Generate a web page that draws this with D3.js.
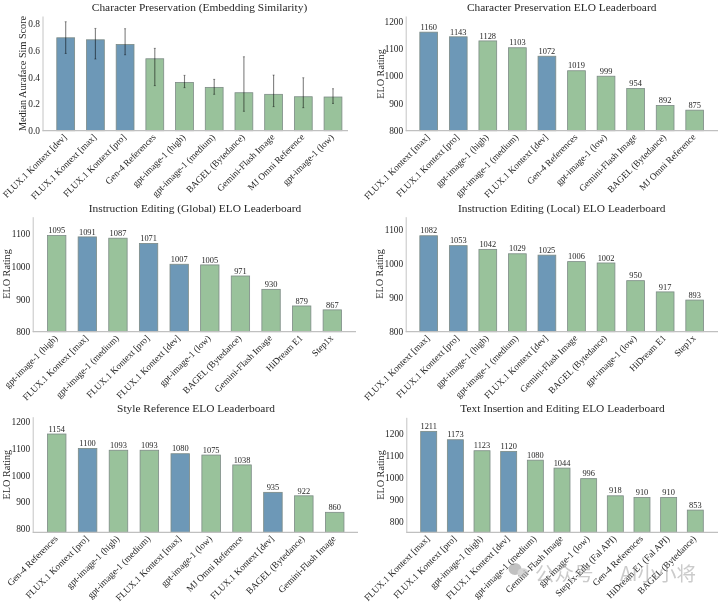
<!DOCTYPE html>
<html><head><meta charset="utf-8">
<script src="https://cdn.jsdelivr.net/npm/d3@7"></script>
<style>
html,body{margin:0;padding:0;background:#fff}
svg{display:block}
text{font-family:"Liberation Serif",serif;fill:#262626}
</style></head><body><svg id="c" width="720" height="602"></svg>
<script>
const KM="FLUX.1 Kontext [max]",KP="FLUX.1 Kontext [pro]",KD="FLUX.1 Kontext [dev]";
const GH="gpt-image-1 (high)",GM="gpt-image-1 (medium)",GL="gpt-image-1 (low)";
const G4="Gen-4 References",BA="BAGEL (Bytedance)",GF="Gemini-Flash Image",MJ="MJ Omni Reference",HD="HiDream E1",ST="Step1x";

const simNames=[KD,KM,KP,G4,GH,GM,BA,GF,MJ,GL];
const simValues=[0.695,0.68,0.645,0.538,0.361,0.324,0.284,0.272,0.254,0.252];
const simLow=[0.578,0.536,0.568,0.337,0.322,0.272,0.145,0.18,0.172,0.204];
const simHigh=[0.815,0.765,0.763,0.616,0.414,0.384,0.553,0.416,0.396,0.314];

const charNames=[KM,KP,GH,GM,KD,G4,GL,GF,BA,MJ];
const charValues=[1160,1143,1128,1103,1072,1019,999,954,892,875];
const globalNames=[GH,KM,GM,KP,KD,GL,BA,GF,HD,ST];
const globalValues=[1095,1091,1087,1071,1007,1005,971,930,879,867];
const localNames=[KM,KP,GH,GM,KD,GF,BA,GL,HD,ST];
const localValues=[1082,1053,1042,1029,1025,1006,1002,950,917,893];
const styleNames=[G4,KP,GH,GM,KM,GL,MJ,KD,BA,GF];
const styleValues=[1154,1100,1093,1093,1080,1075,1038,935,922,860];
const textNames=[KM,KP,GH,KD,GM,GF,GL,"Step1x-Edit (Fal API)",G4,"HiDream E1 (Fal API)",BA];
const textValues=[1211,1173,1123,1120,1080,1044,996,918,910,910,853];

const eloTicks1=[800,900,1000,1100,1200];
const eloTicks2=[800,900,1000,1100];
const simTicks=[0,0.2,0.4,0.6,0.8];

const titles=["Character Preservation (Embedding Similarity)","Character Preservation ELO Leaderboard","Instruction Editing (Global) ELO Leaderboard","Instruction Editing (Local) ELO Leaderboard","Style Reference ELO Leaderboard","Text Insertion and Editing ELO Leaderboard"];

const panels=[
 {t:titles[0],names:simNames,vals:simValues,lo:simLow,hi:simHigh,dom:[0,0.858],ticks:simTicks,fmt:d3.format(".1f"),yl:"Median Auraface Sim Score",
  L:42.5,R:348,T:16,B:130.7,c0:65.7,c1:333,tx:199.5,lx:26,ly:73.5,labels:false},
 {t:titles[1],names:charNames,vals:charValues,dom:[800,1219],ticks:eloTicks1,yl:"ELO Rating",
  L:405.7,R:718,T:16,B:130.7,c0:428.7,c1:694.7,tx:561.7,lx:383.5,ly:74,labels:true},
 {t:titles[2],names:globalNames,vals:globalValues,dom:[800,1153],ticks:eloTicks2,yl:"ELO Rating",
  L:32.7,R:356,T:216.7,B:331.7,c0:56.7,c1:332.3,tx:195,lx:10,ly:274,labels:true},
 {t:titles[3],names:localNames,vals:localValues,dom:[800,1138],ticks:eloTicks2,yl:"ELO Rating",
  L:405.7,R:718,T:216.7,B:331.7,c0:428.7,c1:694.7,tx:561.7,lx:383,ly:274,labels:true},
 {t:titles[4],names:styleNames,vals:styleValues,dom:[785,1219],ticks:eloTicks1,yl:"ELO Rating",
  L:32.7,R:358,T:416.7,B:532.3,c0:56.7,c1:334.7,tx:196,lx:10,ly:474.7,labels:true},
 {t:titles[5],names:textNames,vals:textValues,dom:[752,1275],ticks:eloTicks1,yl:"ELO Rating",
  L:406.3,R:718,T:417.3,B:532.3,c0:428.7,c1:695.3,tx:562.5,lx:383.5,ly:475,labels:true}
];

const svg=d3.select("#c");
const defs=svg.append("defs");
defs.append("filter").attr("id","soft").attr("x","-5%").attr("y","-5%").attr("width","110%").attr("height","110%")
  .append("feGaussianBlur").attr("stdDeviation",0.3);
const root=svg.append("g").attr("filter","url(#soft)");
const BLUE="#6d98b7",GREEN="#99c29b";

panels.forEach(p=>{
  const g=root.append("g");
  const n=p.names.length, step=(p.c1-p.c0)/(n-1);
  const x=d3.scaleBand().domain(p.names).range([p.c0-step/2,p.c1+step/2]).paddingInner(0.4).paddingOuter(0.2);
  const y=d3.scaleLinear().domain(p.dom).range([p.B,p.T]);
  const base=y(p.dom[0]);

  g.append("text").attr("x",p.tx).attr("y",p.T-5).attr("text-anchor","middle").attr("font-size",11.4).text(p.t);

  g.selectAll("rect.bar").data(p.names).join("rect").attr("class","bar")
    .attr("x",d=>x(d)).attr("width",x.bandwidth())
    .attr("y",(d,i)=>y(p.vals[i])).attr("height",(d,i)=>base-y(p.vals[i]))
    .attr("fill",d=>d.startsWith("FLUX")?BLUE:GREEN)
    .attr("stroke","#7d8b86").attr("stroke-width",0.8);

  if(p.lo){
    const cx=d=>x(d)+x.bandwidth()/2;
    g.selectAll("line.err").data(p.names).join("line").attr("class","err")
      .attr("x1",cx).attr("x2",cx)
      .attr("y1",(d,i)=>y(p.lo[i])).attr("y2",(d,i)=>y(p.hi[i]))
      .attr("stroke","#000").attr("stroke-opacity",0.5).attr("stroke-width",1.1);
    [p.lo,p.hi].forEach(arr=>{
      g.selectAll(null).data(p.names).join("line")
        .attr("x1",d=>cx(d)-1).attr("x2",d=>cx(d)+1)
        .attr("y1",(d,i)=>y(arr[i])).attr("y2",(d,i)=>y(arr[i]))
        .attr("stroke","#000").attr("stroke-opacity",0.5).attr("stroke-width",0.8);
    });
  }
  if(p.labels){
    g.selectAll("text.val").data(p.names).join("text").attr("class","val")
      .attr("x",d=>x(d)+x.bandwidth()/2).attr("y",(d,i)=>y(p.vals[i])-2.3)
      .attr("text-anchor","middle").attr("font-size",8.4).text((d,i)=>p.vals[i]);
  }

  const ay=g.append("g").attr("transform",`translate(${p.L},0)`)
    .call(d3.axisLeft(y).tickValues(p.ticks).tickSize(0).tickPadding(2.5).tickFormat(p.fmt||d3.format("d")));
  ay.selectAll("text").attr("font-size",9.4);
  ay.select(".domain").attr("stroke","#c4c4c4").attr("stroke-width",1);

  const ax=g.append("g").attr("transform",`translate(0,${p.B})`)
    .call(d3.axisBottom(x).tickSize(0).tickPadding(0));
  ax.select(".domain").remove();
  ax.selectAll("text").attr("font-size",9.3).attr("text-anchor","end").attr("dy",0)
    .attr("transform","translate(1.5,7) rotate(-45)");
  g.append("line").attr("x1",p.L).attr("x2",p.R).attr("y1",p.B).attr("y2",p.B).attr("stroke","#c0c0c0").attr("stroke-width",1.2);

  g.append("text").attr("transform",`translate(${p.lx},${p.ly}) rotate(-90)`)
    .attr("text-anchor","middle").attr("font-size",10.2).text(p.yl);
});

const wm=svg.append("g").attr("opacity",0.55);
wm.append("ellipse").attr("cx",515).attr("cy",569).attr("rx",6.5).attr("ry",6).attr("fill","#8f8f8f");
wm.append("ellipse").attr("cx",523).attr("cy",573).attr("rx",5.5).attr("ry",4.8).attr("fill","#b5b5b5");
wm.append("text").attr("x",535).attr("y",581).attr("font-size",19.5).style("font-family","'Noto Sans CJK SC'").style("fill","#a0a0a0").text("公众号");
wm.append("text").attr("x",620).attr("y",581).attr("font-size",19.5).style("font-family","'Noto Sans CJK SC'").style("fill","#a0a0a0").text("AI小小将");
</script></body></html>
